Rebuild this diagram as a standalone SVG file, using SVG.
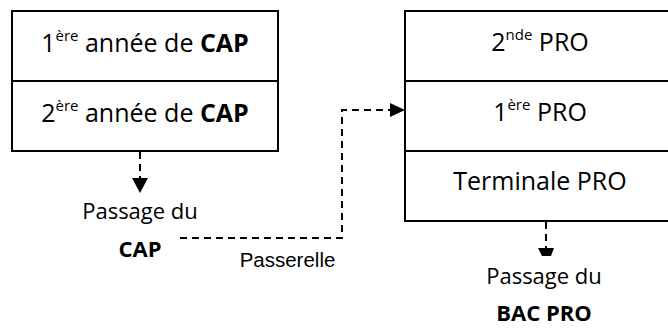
<svg xmlns="http://www.w3.org/2000/svg" width="668" height="329" viewBox="0 0 668 329">
<style>
.box{fill:#fff;stroke:#000;stroke-width:2}
.t{font-family:"Open Sans","Noto Sans",sans-serif;font-size:25px;fill:#000;text-anchor:middle}
.s{font-family:"Open Sans","Noto Sans",sans-serif;font-size:22px;fill:#000;text-anchor:middle}
.sup{font-size:15px}
.b{font-weight:bold}
.a{font-family:"Liberation Sans",Arial,sans-serif;font-size:20.5px;fill:#000;text-anchor:middle}
.d{fill:none;stroke:#000;stroke-width:2;stroke-dasharray:7,5}
.h{fill:#000;stroke:none}
</style>
<rect width="668" height="329" fill="#fff"/>
<g id="cap1"><rect class="box" x="12" y="11" width="266" height="70"/>
<text class="t" x="145" y="52">1<tspan class="sup" dy="-11">ère</tspan><tspan dy="11"> année de </tspan><tspan class="b">CAP</tspan></text></g>
<g id="cap2"><rect class="box" x="12" y="81" width="266" height="70"/>
<text class="t" x="145" y="122">2<tspan class="sup" dy="-11">ère</tspan><tspan dy="11"> année de </tspan><tspan class="b">CAP</tspan></text></g>
<g id="pro2"><rect class="box" x="405" y="11" width="272" height="70"/>
<text class="t" x="540" y="51">2<tspan class="sup" dy="-11">nde</tspan><tspan dy="11"> PRO</tspan></text></g>
<g id="pro1"><rect class="box" x="405" y="81" width="272" height="70"/>
<text class="t" x="540" y="121">1<tspan class="sup" dy="-11">ère</tspan><tspan dy="11"> PRO</tspan></text></g>
<g id="term"><rect class="box" x="405" y="151" width="272" height="70"/>
<text class="t" x="540" y="190">Terminale PRO</text></g>
<g id="passcap"><text class="s" x="140" y="219">Passage du</text>
<text class="s b" x="140" y="257">CAP</text></g>
<g id="passbac"><text class="s" x="544" y="284">Passage du</text>
<text class="s b" x="544" y="321">BAC PRO</text></g>
<g id="connectors">
<path class="d" d="M140 152 V178"/>
<polygon class="h" points="132,178 148,178 140,193"/>
<path class="d" d="M546 222 V248"/>
<polygon class="h" points="538,248 554,248 551,256 542,256"/>
<path class="d" d="M180 238 H342 V110 H390"/>
<polygon class="h" points="390,103 405,110 390,117"/>
<text class="a" x="287.5" y="267">Passerelle</text>
</g>
</svg>
